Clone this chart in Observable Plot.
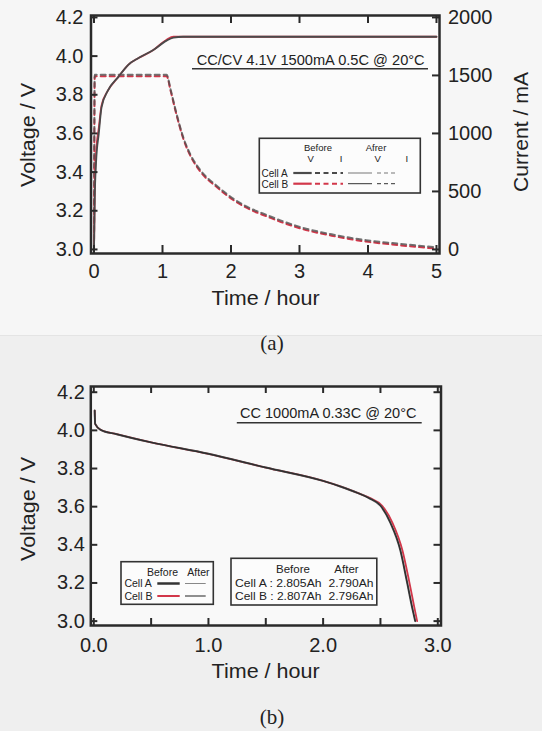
<!DOCTYPE html>
<html>
<head>
<meta charset="utf-8">
<script src="https://cdn.jsdelivr.net/npm/d3@7"></script>
<script src="https://cdn.jsdelivr.net/npm/@observablehq/plot@0.6"></script>
<style>
html, body { margin: 0; padding: 0; }
body { width: 542px; height: 731px; overflow: hidden; background: #efefef; }
#wrap { position: relative; width: 542px; height: 731px; }
#topbg { position: absolute; left: 0; top: 0; width: 542px; height: 335px; background: #f6f6f6; border-bottom: 1px solid #e4e4e4; }
#pa { position: absolute; left: 0; top: 0; }
#pb { position: absolute; left: 0; top: 370px; }
.cap { position: absolute; left: 0; width: 542px; text-align: center; font-family: "Liberation Serif", "Times New Roman", serif; font-size: 21px; line-height: 24px; color: #222; }
</style>
</head>
<body>
<div id="wrap">
  <div id="topbg"></div>
  <div id="pa"></div>
  <div class="cap" style="top:331px; left:1px">(a)</div>
  <div id="pb"></div>
  <div class="cap" style="top:705px; left:1px">(b)</div>
</div>
<script>
// ---------------- DATA ----------------
// (a) CC/CV charge: voltage (V) vs time (h)
const chargeT   = [0, 0.01, 0.03, 0.07, 0.11, 0.20, 0.35, 0.50, 0.65, 0.86, 1.06, 1.16, 1.30, 2, 3, 4, 5];
const chargeV_A = [3.00, 3.25, 3.45, 3.60, 3.735, 3.82, 3.89, 3.955, 3.99, 4.03, 4.08, 4.095, 4.10, 4.10, 4.10, 4.10, 4.10];
const chargeV_B = [3.00, 3.30, 3.50, 3.63, 3.745, 3.82, 3.89, 3.955, 3.99, 4.03, 4.085, 4.10, 4.10, 4.10, 4.10, 4.10, 4.10];
// (a) charge current (mA) vs time (h)
const currentT  = [0, 0.01, 1.06, 1.12, 1.19, 1.31, 1.41, 1.55, 1.80, 2.04, 2.28, 2.53, 2.77, 3.06, 3.47, 3.97, 4.43, 4.98];
const currentMA = [0, 1500, 1500, 1370, 1200, 950, 810, 680, 540, 430, 350, 290, 235, 180, 125, 75, 45, 15];
// (b) CC discharge: voltage (V) vs time (h)
const dischT_A = [0.008, 0.012, 0.06, 0.2, 0.5, 1.0, 1.5, 2.0, 2.15, 2.3, 2.4, 2.5, 2.587, 2.674, 2.73, 2.776, 2.803];
const dischV_A = [4.104, 4.034, 4.003, 3.98, 3.937, 3.877, 3.805, 3.735, 3.706, 3.672, 3.645, 3.605, 3.515, 3.37, 3.21, 3.073, 3.00];
const dischT_B = [0.008, 0.012, 0.06, 0.2, 0.5, 1.0, 1.5, 2.0, 2.15, 2.3, 2.41, 2.515, 2.605, 2.692, 2.75, 2.795, 2.82];
const dischV_B = [4.104, 4.034, 4.003, 3.98, 3.937, 3.877, 3.805, 3.735, 3.706, 3.672, 3.645, 3.605, 3.515, 3.37, 3.21, 3.073, 3.00];
// ticks
const xTicksA = [0, 1, 2, 3, 4, 5];
const vTicks  = [3.0, 3.2, 3.4, 3.6, 3.8, 4.0, 4.2];
const iTicks  = [0, 500, 1000, 1500, 2000];
const xTicksB = [0, 0.5, 1, 1.5, 2, 2.5, 3];
const xLabelsB = [0, 1, 2, 3];
// texts
const noteA = "CC/CV 4.1V 1500mA 0.5C @ 20°C";
const noteB = "CC 1000mA 0.33C @ 20°C";
const capRows = [["Cell A : 2.805Ah", "2.790Ah"], ["Cell B : 2.807Ah", "2.796Ah"]];

// ---------------- STYLE ----------------
const FONT = '"Liberation Sans", Arial, Helvetica, sans-serif';
const AX = "#2a2a2a";
const RED = "#d2374a";
const DARK = "#4a4a4a";
const W = 542;

const rows = (ts, vs) => ts.map((t, i) => ({t, v: vs[i]}));
const vFromI = mA => 3.0 + mA / 2000 * 1.2;
const iFromV = v => Math.round((v - 3.0) / 1.2 * 2000);

// ---------------- PANEL A ----------------
const Ha = 320, mA = {l: 90.5, r: 103, t: 15, b: 67};
const iwA = W - mA.l - mA.r, ihA = Ha - mA.t - mA.b;
const chargeA = rows(chargeT, chargeV_A), chargeB = rows(chargeT, chargeV_B);
const curr = currentT.map((t, i) => ({t, i: currentMA[i]}));

const plotA = Plot.plot({
  width: W, height: Ha,
  marginLeft: mA.l, marginRight: mA.r, marginTop: mA.t, marginBottom: mA.b,
  style: {background: "transparent", fontFamily: FONT, fontSize: "20px", color: "#222"},
  x: {domain: [-0.044, 5.044]},
  y: {domain: [2.979, 4.21]},
  marks: [
    Plot.frame({fill: "#fbfbfb", stroke: null}),
    Plot.line(curr, {x: "t", y: d => vFromI(d.i), curve: "monotone-x", stroke: RED, strokeWidth: 2, strokeDasharray: "5,4", dy: 0.8}),
    Plot.line(curr, {x: "t", y: d => vFromI(d.i), curve: "monotone-x", stroke: "#505050", strokeOpacity: 0.8, strokeWidth: 2, strokeDasharray: "5,4", dy: -0.6}),
    Plot.line(chargeB, {x: "t", y: "v", curve: "monotone-x", stroke: RED, strokeWidth: 1.8}),
    Plot.line(chargeA, {x: "t", y: "v", curve: "monotone-x", stroke: DARK, strokeWidth: 1.8}),
    Plot.tickX(xTicksA, {x: d => d, insetTop: ihA - 8, stroke: AX, strokeWidth: 2}),
    Plot.tickX(xTicksA, {x: d => d, insetBottom: ihA - 8, stroke: AX, strokeWidth: 2}),
    Plot.tickY(vTicks, {y: d => d, insetRight: iwA - 7, stroke: AX, strokeWidth: 2}),
    Plot.tickY(iTicks, {y: d => vFromI(d), insetLeft: iwA - 7, stroke: AX, strokeWidth: 2}),
    Plot.axisX({ticks: xTicksA, tickSize: 0, tickPadding: 10.5, label: null, tickFormat: d3.format("d")}),
    Plot.axisY({anchor: "left", ticks: vTicks, tickSize: 0, tickPadding: 7.5, label: null, tickFormat: d3.format(".1f")}),
    Plot.axisY({anchor: "right", ticks: iTicks.map(vFromI), tickSize: 0, tickPadding: 8.5, label: null, tickFormat: v => String(iFromV(v))}),
    Plot.frame({stroke: AX, strokeWidth: 2.5})
  ]
});
document.getElementById("pa").append(plotA);

function addText(g, txt, x, y, o = {}) {
  const t = g.append("text").attr("x", x).attr("y", y).text(txt)
    .attr("font-family", FONT).attr("fill", o.fill || "#222")
    .attr("font-size", o.size || 10).attr("text-anchor", o.anchor || "start");
  if (o.len) t.attr("textLength", o.len).attr("lengthAdjust", "spacingAndGlyphs");
  if (o.rot) t.attr("transform", `rotate(${o.rot},${x},${y})`).attr("dominant-baseline", "central");
  return t;
}
function seg(g, x1, x2, y, stroke, w, dash) {
  const l = g.append("line").attr("x1", x1).attr("x2", x2).attr("y1", y).attr("y2", y)
    .attr("stroke", stroke).attr("stroke-width", w);
  if (dash) l.attr("stroke-dasharray", dash);
  return l;
}

{
  const g = d3.select(plotA).append("g");
  // axis titles
  addText(g, "Voltage / V", 27.6, 135, {size: 21, anchor: "middle", rot: -90, len: 104});
  addText(g, "Current / mA", 520, 132, {size: 21, anchor: "middle", rot: -90, len: 120});
  addText(g, "Time / hour", 265.6, 305, {size: 21, anchor: "middle", len: 108});
  // condition note
  addText(g, noteA, 196.7, 65, {size: 15, len: 228});
  seg(g, 192, 428, 68.7, "#333", 1.6);
  // legend
  g.append("rect").attr("x", 259.3).attr("y", 138.3).attr("width", 161).attr("height", 54.7)
    .attr("fill", "#fcfcfc").attr("stroke", "#333").attr("stroke-width", 1.6);
  addText(g, "Before", 318, 151, {size: 9.5, anchor: "middle"});
  addText(g, "Afrer", 376, 151, {size: 9.5, anchor: "middle"});
  addText(g, "V", 310.7, 162.3, {size: 9.5, anchor: "middle"});
  addText(g, "I", 341, 162.3, {size: 9.5, anchor: "middle"});
  addText(g, "V", 377.7, 162.3, {size: 9.5, anchor: "middle"});
  addText(g, "I", 406.7, 162.3, {size: 9.5, anchor: "middle"});
  addText(g, "Cell A", 261.5, 176.6, {size: 10});
  addText(g, "Cell B", 261.5, 187.8, {size: 10});
  const ya = 173, yb = 183.7;
  seg(g, 293.3, 311.7, ya, DARK, 2.2);
  seg(g, 315, 343, ya, DARK, 2, "5,3.5");
  seg(g, 348, 372, ya, "#777", 1);
  seg(g, 377, 397, ya, "#777", 1, "4,3");
  seg(g, 293.3, 311.7, yb, RED, 2.2);
  seg(g, 315, 343, yb, RED, 2, "5,3.5");
  seg(g, 348, 372, yb, "#333", 1);
  seg(g, 377, 397, yb, "#333", 1, "4,3");
}

// ---------------- PANEL B ----------------
const Hb = 320, mB = {l: 90.3, r: 101.5, t: 16, b: 65};
const iwB = W - mB.l - mB.r, ihB = Hb - mB.t - mB.b;
const dischA = rows(dischT_A, dischV_A), dischB = rows(dischT_B, dischV_B);

const plotB = Plot.plot({
  width: W, height: Hb,
  marginLeft: mB.l, marginRight: mB.r, marginTop: mB.t, marginBottom: mB.b,
  style: {background: "transparent", fontFamily: FONT, fontSize: "20px", color: "#222"},
  x: {domain: [-0.026, 3.028]},
  y: {domain: [2.977, 4.23]},
  marks: [
    Plot.frame({fill: "#f9f9f9", stroke: null}),
    Plot.line(dischB, {x: "t", y: "v", curve: "monotone-x", stroke: RED, strokeWidth: 1.8}),
    Plot.line(dischA, {x: "t", y: "v", curve: "monotone-x", stroke: DARK, strokeWidth: 2}),
    Plot.line(dischA, {x: "t", y: "v", curve: "monotone-x", stroke: "#222", strokeWidth: 0.8}),
    Plot.tickX(xTicksB, {x: d => d, insetTop: ihB - 7, stroke: AX, strokeWidth: 2}),
    Plot.tickX(xTicksB, {x: d => d, insetBottom: ihB - 7, stroke: AX, strokeWidth: 2}),
    Plot.tickY(vTicks, {y: d => d, insetRight: iwB - 7, stroke: AX, strokeWidth: 2}),
    Plot.tickY(vTicks, {y: d => d, insetLeft: iwB - 7, stroke: AX, strokeWidth: 2}),
    Plot.axisX({ticks: xLabelsB, tickSize: 0, tickPadding: 12.5, label: null, tickFormat: d3.format(".1f")}),
    Plot.axisY({anchor: "left", ticks: vTicks, tickSize: 0, tickPadding: 6, label: null, tickFormat: d3.format(".1f")}),
    Plot.frame({stroke: AX, strokeWidth: 2.5})
  ]
});
document.getElementById("pb").append(plotB);

{
  const g = d3.select(plotB).append("g");
  addText(g, "Voltage / V", 27.6, 139, {size: 21, anchor: "middle", rot: -90, len: 104});
  addText(g, "Time / hour", 265.6, 307.5, {size: 21, anchor: "middle", len: 108});
  addText(g, noteB, 240, 48, {size: 15, len: 176.5});
  seg(g, 236.8, 421.7, 52.7, "#333", 1.6);
  // left legend
  g.append("rect").attr("x", 121).attr("y", 191.7).attr("width", 92.3).attr("height", 42.6)
    .attr("fill", "#fcfcfc").attr("stroke", "#333").attr("stroke-width", 1.6);
  addText(g, "Before", 162.5, 205.5, {size: 10.5, anchor: "middle"});
  addText(g, "After", 198.4, 205.5, {size: 10.5, anchor: "middle"});
  addText(g, "Cell A", 124.4, 217.3, {size: 10.5});
  addText(g, "Cell B", 124.4, 229.8, {size: 10.5});
  seg(g, 157.3, 179.7, 213.5, "#333", 2.5);
  seg(g, 185, 205.7, 213.5, "#888", 1);
  seg(g, 157.3, 179.7, 226, RED, 2);
  seg(g, 185, 205.7, 226, "#222", 1);
  // right legend (capacities)
  g.append("rect").attr("x", 231).attr("y", 188.3).attr("width", 145.8).attr("height", 46.7)
    .attr("fill", "#fcfcfc").attr("stroke", "#333").attr("stroke-width", 1.6);
  addText(g, "Before", 293, 203.3, {size: 11.5, anchor: "middle"});
  addText(g, "After", 346.5, 203.3, {size: 11.5, anchor: "middle"});
  capRows.forEach((r, k) => {
    addText(g, r[0], 235, 216.8 + k * 13.3, {size: 11.5, len: 86.5});
    addText(g, r[1], 328.5, 216.8 + k * 13.3, {size: 11.5, len: 45});
  });
}
</script>
</body>
</html>
